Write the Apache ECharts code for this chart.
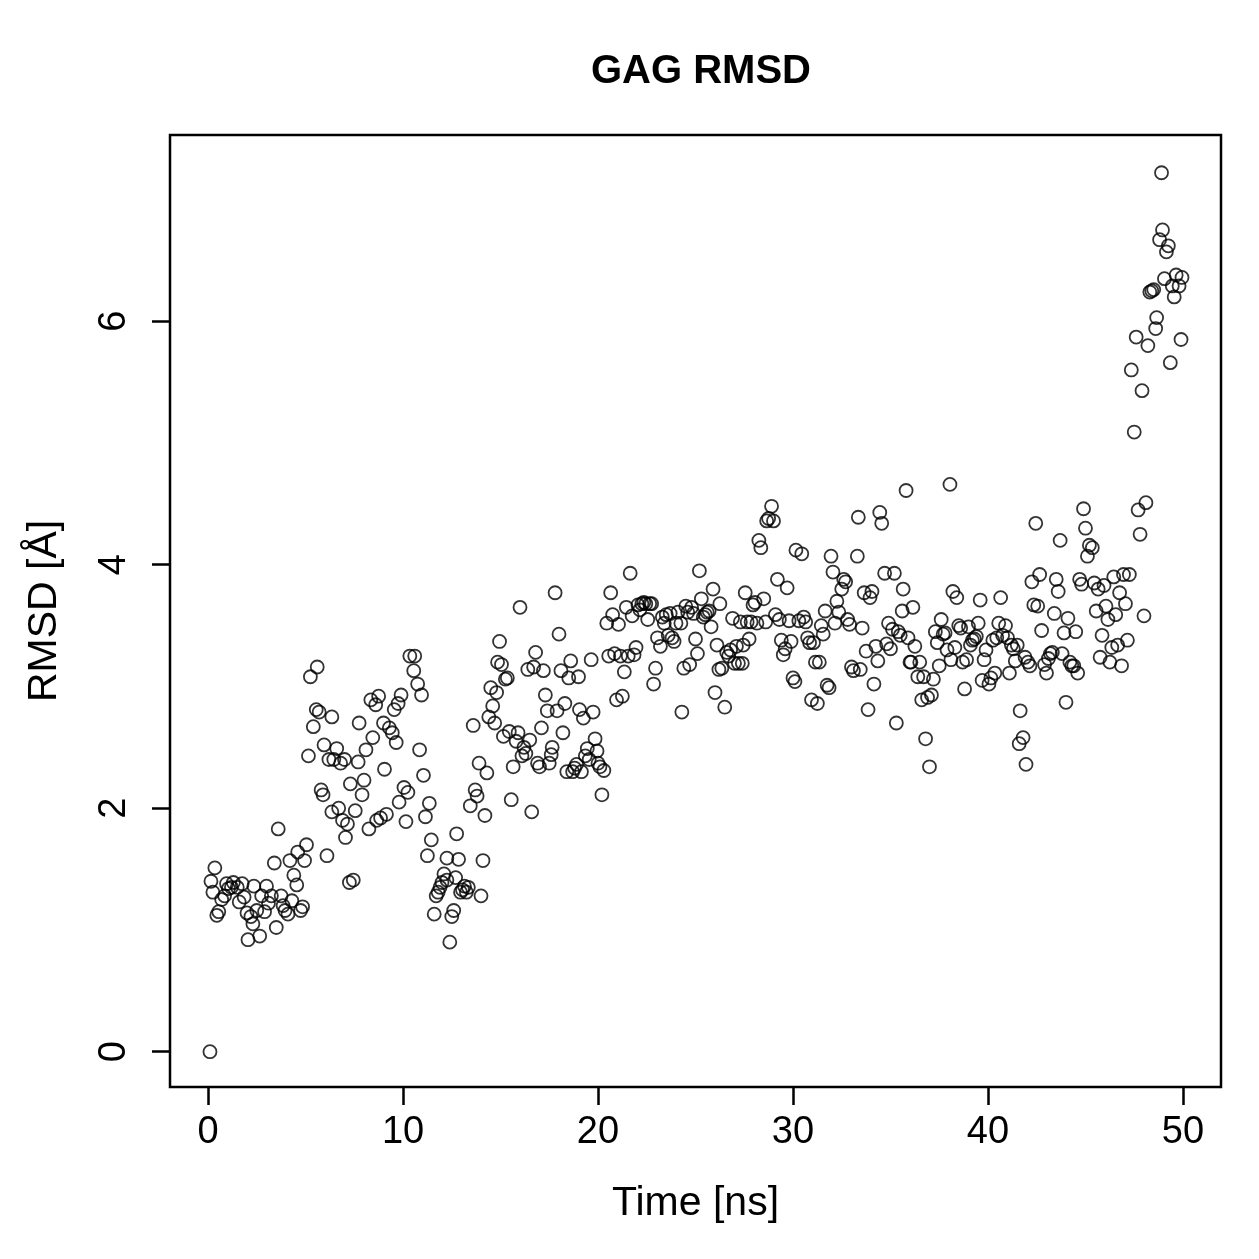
<!DOCTYPE html>
<html>
<head>
    <meta charset="utf-8">
    <title>GAG RMSD</title>
    <style>
        html, body { margin: 0; padding: 0; background: #fff; }
    </style>
</head>
<body>
    <div id="chart" style="width: 1259px;height: 1259px;"></div>

    <script src="https://cdn.jsdelivr.net/npm/echarts@6/dist/echarts.min.js"></script>
    <script>
        // time (ns)
        const timeNs = [
            0.1, 0.15, 0.35, 0.25, 0.45, 0.55, 0.7, 0.85, 0.95, 1.05, 1.2, 1.3, 1.5, 1.6, 1.75, 1.85, 2.0, 2.05, 2.2, 2.35,
            2.3, 2.5, 2.65, 2.75, 2.9, 3.0, 3.1, 3.25, 3.4, 3.5, 3.6, 3.75, 3.85, 3.95, 4.1, 4.2, 4.3, 4.4, 4.55, 4.6,
            4.75, 4.85, 4.95, 5.05, 5.15, 5.25, 5.4, 5.55, 5.6, 5.7, 5.8, 5.9, 5.95, 6.1, 6.2, 6.35, 6.35, 6.45, 6.6, 6.7,
            6.8, 6.9, 7.0, 7.05, 7.15, 7.25, 7.45, 7.3, 7.55, 7.7, 7.75, 7.9, 8.0, 8.1, 8.25, 8.35, 8.45, 8.6, 8.65, 8.75,
            8.85, 9.0, 9.05, 9.15, 9.3, 9.45, 9.55, 9.65, 9.75, 9.8, 9.9, 10.05, 10.15, 10.25, 10.35, 10.6, 10.55, 10.75, 10.85, 10.95,
            11.05, 11.15, 11.25, 11.35, 11.45, 11.6, 11.7, 11.8, 11.9, 12.0, 12.1, 12.25, 12.25, 12.4, 12.5, 12.6, 12.7, 12.75, 12.85, 12.95,
            13.05, 13.15, 13.25, 13.35, 13.45, 13.6, 13.7, 13.8, 13.9, 14.0, 14.1, 14.2, 14.3, 14.4, 14.5, 14.6, 14.7, 14.8, 14.85, 14.95,
            15.05, 15.15, 15.25, 15.35, 15.45, 15.55, 15.65, 15.8, 15.9, 16.0, 16.1, 16.2, 16.3, 16.4, 16.5, 16.6, 16.7, 16.8, 16.9, 17.0,
            17.1, 17.2, 17.3, 17.4, 17.5, 17.6, 17.65, 17.8, 17.9, 18.0, 18.1, 18.2, 18.3, 18.4, 18.5, 18.6, 18.7, 18.8, 18.9, 19.0,
            19.05, 19.15, 19.25, 19.35, 19.45, 19.55, 19.65, 19.75, 19.85, 19.95, 20.0, 20.1, 20.2, 20.3, 20.45, 20.55, 20.65, 20.75, 20.85, 20.95,
            21.05, 21.15, 21.25, 21.35, 21.45, 21.55, 21.65, 21.75, 21.85, 21.95, 22.05, 22.15, 22.25, 22.35, 22.45, 22.55, 22.65, 22.75, 22.85, 22.95,
            23.05, 23.2, 23.3, 23.4, 23.5, 23.6, 23.7, 23.8, 23.9, 24.0, 24.1, 24.25, 24.3, 24.4, 24.5, 24.6, 24.7, 24.8, 24.9, 25.0,
            25.1, 25.2, 25.3, 25.4, 25.5, 25.6, 25.7, 25.8, 25.9, 26.0, 26.1, 26.2, 26.25, 26.35, 26.5, 26.6, 26.7, 26.8, 26.9, 27.0,
            27.1, 27.2, 27.3, 27.4, 27.45, 27.55, 27.65, 27.75, 27.85, 27.95, 28.05, 28.15, 28.25, 28.35, 28.5, 28.6, 28.65, 28.75, 28.9, 29.0,
            29.1, 29.2, 29.3, 29.4, 29.5, 29.6, 29.7, 29.8, 29.9, 30.0, 30.1, 30.15, 30.3, 30.45, 30.55, 30.65, 30.75, 30.85, 30.95, 31.05,
            31.15, 31.25, 31.35, 31.45, 31.55, 31.65, 31.75, 31.85, 31.95, 32.05, 32.15, 32.25, 32.35, 32.5, 32.6, 32.7, 32.8, 32.9, 33.0, 33.1,
            33.3, 33.35, 33.45, 33.55, 33.65, 33.75, 33.85, 33.95, 34.05, 34.15, 34.25, 34.35, 34.45, 34.55, 34.7, 34.8, 34.9, 35.0, 35.1, 35.2,
            35.3, 35.4, 35.5, 35.6, 35.65, 35.8, 35.9, 36.0, 36.05, 36.15, 36.25, 36.4, 36.5, 36.6, 36.7, 36.8, 36.9, 37.0, 37.1, 37.2,
            37.3, 37.4, 37.5, 37.6, 37.7, 37.8, 37.9, 38.05, 38.1, 38.2, 38.3, 38.4, 38.5, 38.6, 38.7, 38.8, 38.9, 39.0, 39.1, 39.2,
            39.3, 39.4, 39.5, 39.6, 39.7, 39.8, 39.9, 40.05, 40.15, 40.25, 40.35, 40.45, 40.55, 40.65, 40.75, 40.9, 41.0, 41.1, 41.2, 41.3,
            41.4, 41.5, 41.6, 41.65, 41.8, 41.9, 41.95, 42.05, 42.15, 42.25, 42.35, 42.45, 42.55, 42.65, 42.75, 42.9, 43.0, 43.1, 43.2, 43.3,
            43.4, 43.5, 43.6, 43.7, 43.8, 43.9, 44.0, 44.1, 44.2, 44.3, 44.4, 44.5, 44.6, 44.7, 44.8, 44.9, 45.0, 45.1, 45.2, 45.35,
            45.45, 45.55, 45.65, 45.75, 45.85, 45.95, 46.05, 46.15, 46.25, 46.35, 46.45, 46.55, 46.65, 46.75, 46.85, 46.95, 47.05, 47.15, 47.25, 47.35,
            47.5, 47.6, 47.7, 47.8, 47.9, 48.0, 48.1, 48.2, 48.3, 48.4, 48.5, 48.6, 48.65, 48.8, 48.9, 48.95, 49.05, 49.15, 49.25, 49.35,
            49.45, 49.55, 49.65, 49.8, 49.9, 49.95
        ];

        // RMSD (Å)
        const rmsd = [
            0.00, 1.40, 1.51, 1.31, 1.12, 1.15, 1.25, 1.28, 1.38, 1.34, 1.35, 1.39, 1.35, 1.23, 1.38, 1.27, 1.14, 0.92, 1.11, 1.36,
            1.05, 1.16, 0.95, 1.28, 1.15, 1.36, 1.22, 1.28, 1.55, 1.02, 1.83, 1.28, 1.20, 1.16, 1.13, 1.57, 1.24, 1.45, 1.37, 1.64,
            1.16, 1.19, 1.57, 1.70, 2.43, 3.08, 2.67, 2.81, 3.16, 2.79, 2.15, 2.11, 2.52, 1.61, 2.40, 2.75, 1.97, 2.40, 2.49, 2.00,
            2.37, 1.90, 2.40, 1.76, 1.87, 1.39, 1.41, 2.20, 1.98, 2.38, 2.70, 2.11, 2.23, 2.48, 1.83, 2.89, 2.58, 2.85, 1.90, 2.92,
            1.92, 2.70, 2.32, 1.95, 2.66, 2.62, 2.81, 2.54, 2.86, 2.05, 2.93, 2.17, 1.89, 2.13, 3.25, 3.25, 3.13, 3.02, 2.48, 2.93,
            2.27, 1.93, 1.61, 2.04, 1.74, 1.13, 1.28, 1.31, 1.35, 1.39, 1.46, 1.59, 1.41, 0.90, 1.11, 1.16, 1.43, 1.79, 1.58, 1.31,
            1.33, 1.36, 1.31, 1.35, 2.02, 2.68, 2.15, 2.10, 2.37, 1.28, 1.57, 1.94, 2.29, 2.75, 2.99, 2.84, 2.70, 2.95, 3.20, 3.37,
            3.18, 2.59, 3.06, 3.07, 2.63, 2.07, 2.34, 2.55, 2.62, 3.65, 2.43, 2.50, 2.45, 3.14, 2.56, 1.97, 3.16, 3.28, 2.37, 2.34,
            2.66, 3.13, 2.93, 2.80, 2.37, 2.44, 2.50, 3.77, 2.80, 3.43, 3.13, 2.62, 2.86, 2.30, 3.07, 3.21, 2.30, 2.33, 2.36, 3.08,
            2.81, 2.30, 2.74, 2.43, 2.49, 2.40, 3.22, 2.79, 2.57, 2.47, 2.37, 2.34, 2.11, 2.31, 3.52, 3.25, 3.77, 3.59, 3.27, 2.89,
            3.51, 3.25, 2.92, 3.12, 3.65, 3.25, 3.93, 3.58, 3.26, 3.32, 3.67, 3.63, 3.68, 3.69, 3.68, 3.55, 3.68, 3.68, 3.02, 3.15,
            3.40, 3.33, 3.57, 3.52, 3.59, 3.42, 3.60, 3.40, 3.37, 3.52, 3.61, 3.52, 2.79, 3.15, 3.66, 3.61, 3.18, 3.65, 3.60, 3.39,
            3.27, 3.95, 3.72, 3.57, 3.59, 3.61, 3.62, 3.49, 3.80, 2.95, 3.34, 3.14, 3.68, 3.15, 2.83, 3.28, 3.25, 3.30, 3.56, 3.19,
            3.33, 3.19, 3.53, 3.19, 3.34, 3.77, 3.53, 3.39, 3.53, 3.67, 3.69, 3.52, 4.20, 4.14, 3.72, 3.53, 4.36, 4.38, 4.48, 4.36,
            3.59, 3.88, 3.55, 3.38, 3.26, 3.31, 3.81, 3.54, 3.37, 3.07, 3.04, 4.12, 3.54, 4.09, 3.57, 3.53, 3.40, 3.36, 2.89, 3.36,
            3.20, 2.86, 3.20, 3.50, 3.43, 3.62, 3.01, 2.99, 4.07, 3.94, 3.52, 3.70, 3.61, 3.80, 3.88, 3.86, 3.55, 3.51, 3.16, 3.13,
            4.07, 4.39, 3.14, 3.48, 3.77, 3.29, 2.81, 3.73, 3.78, 3.02, 3.33, 3.21, 4.43, 4.34, 3.93, 3.35, 3.52, 3.31, 3.47, 3.93,
            2.70, 3.45, 3.42, 3.62, 3.80, 4.61, 3.40, 3.20, 3.20, 3.65, 3.33, 3.08, 3.20, 2.89, 3.08, 2.57, 2.91, 2.34, 2.93, 3.06,
            3.45, 3.36, 3.17, 3.55, 3.43, 3.44, 3.30, 4.66, 3.22, 3.78, 3.32, 3.73, 3.50, 3.48, 3.20, 2.98, 3.22, 3.49, 3.34, 3.38,
            3.39, 3.41, 3.52, 3.71, 3.05, 3.22, 3.30, 3.02, 3.07, 3.38, 3.11, 3.40, 3.52, 3.73, 3.42, 3.50, 3.40, 3.11, 3.34, 3.31,
            3.21, 3.34, 2.53, 2.80, 2.58, 3.24, 2.36, 3.20, 3.17, 3.86, 3.67, 4.34, 3.66, 3.92, 3.46, 3.18, 3.11, 3.23, 3.27, 3.28,
            3.60, 3.88, 3.78, 4.20, 3.27, 3.44, 2.87, 3.56, 3.20, 3.17, 3.17, 3.45, 3.11, 3.88, 3.84, 4.46, 4.30, 4.07, 4.16, 4.14,
            3.85, 3.62, 3.80, 3.24, 3.42, 3.83, 3.66, 3.55, 3.20, 3.32, 3.90, 3.59, 3.34, 3.77, 3.17, 3.92, 3.68, 3.38, 3.92, 5.60,
            5.09, 5.87, 4.45, 4.25, 5.43, 3.58, 4.51, 5.80, 6.24, 6.25, 6.26, 5.94, 6.03, 6.67, 7.22, 6.75, 6.35, 6.57, 6.62, 5.66,
            6.29, 6.20, 6.38, 6.29, 5.85, 6.36
        ];

        const xTicks = [0, 10, 20, 30, 40, 50];
        const yTicks = [0, 2, 4, 6];

        const points = timeNs.map((t, i) => [t, rmsd[i]]);

        const chart = echarts.init(document.getElementById('chart'));
        const font = 'Liberation Sans, Arial, sans-serif';

        chart.setOption({
            animation: false,
            backgroundColor: '#fff',
            title: {
                text: 'GAG RMSD',
                left: 696,
                top: 47,
                textAlign: 'center',
                textStyle: { fontFamily: font, fontWeight: 'bold', fontSize: 40, color: '#000' }
            },
            grid: {
                left: 170, right: 38, top: 135, bottom: 172,
                show: true, borderColor: '#000', borderWidth: 2.5, backgroundColor: 'transparent'
            },
            xAxis: {
                type: 'value',
                min: -1.95, max: 51.95,
                name: 'Time [ns]',
                nameLocation: 'middle',
                nameGap: 96,
                nameTextStyle: { fontFamily: font, fontSize: 41, color: '#000' },
                axisLine: { show: false, onZero: false },
                splitLine: { show: false },
                axisTick: { show: true, inside: false, length: 18, customValues: xTicks,
                    lineStyle: { color: '#000', width: 2.5 } },
                axisLabel: { customValues: xTicks, margin: 27, fontFamily: font, fontSize: 38, color: '#000' }
            },
            yAxis: {
                type: 'value',
                min: -0.29, max: 7.53,
                name: 'RMSD [Å]',
                nameLocation: 'middle',
                nameGap: 105,
                nameRotate: 90,
                nameTextStyle: { fontFamily: font, fontSize: 41, color: '#000' },
                axisLine: { show: false, onZero: false },
                splitLine: { show: false },
                axisTick: { show: true, inside: false, length: 18, customValues: yTicks,
                    lineStyle: { color: '#000', width: 2.5 } },
                axisLabel: { customValues: yTicks, rotate: 90, margin: 36, fontFamily: font, fontSize: 38, color: '#000' }
            },
            series: [{
                type: 'scatter',
                data: points,
                symbol: 'circle',
                symbolSize: 13,
                itemStyle: { color: 'transparent', borderColor: '#000', borderWidth: 1.8 },
                emphasis: { disabled: true }
            }]
        });
    </script>
</body>
</html>
